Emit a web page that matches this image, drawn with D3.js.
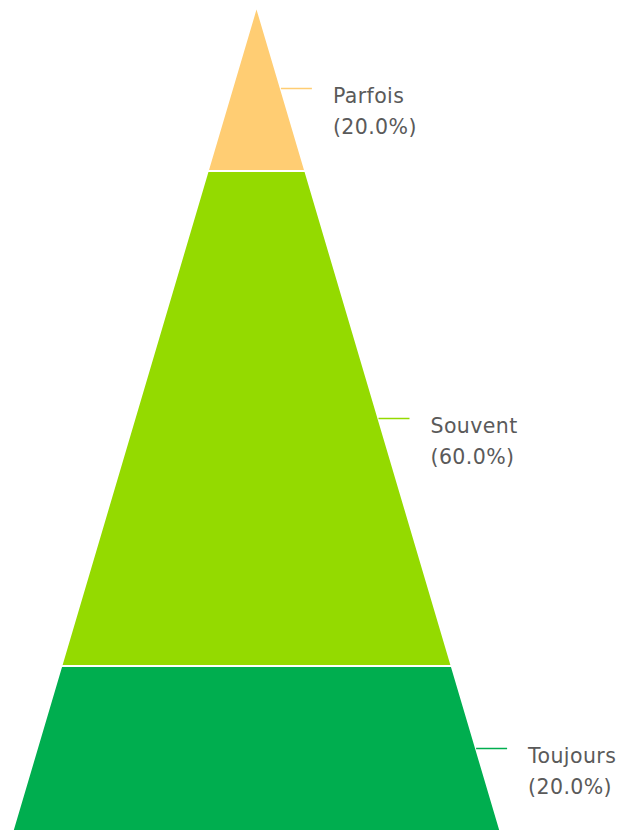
<!DOCTYPE html>
<html>
<head>
<meta charset="utf-8">
<script src="https://cdn.jsdelivr.net/npm/d3@7"></script>
<style>
  html, body { margin: 0; padding: 0; background: #fff; }
  svg { display: block; }
  .lbl { font-family: "DejaVu Sans", sans-serif; font-size: 20.5px; letter-spacing: 0.4px; fill: #5a5a5a; }
</style>
</head>
<body>
<svg id="chart" width="626" height="831"></svg>
<script>
// data, top of the pyramid first
const categories = ["Parfois", "Souvent", "Toujours"];
const values = [20, 60, 20];
const colors = ["#FFCD73", "#94DA00", "#00AE4F"];

const width = 626, height = 831;
const apexX = 256.5, apexY = 6, baseY = 831, baseHalf = 244;

const svg = d3.select("#chart");

const total = d3.sum(values);
const yScale = d3.scaleLinear().domain([0, total]).range([apexY, baseY]);
// half width of the pyramid at a given y
const halfScale = d3.scaleLinear().domain([apexY, baseY]).range([0, baseHalf]);

let acc = 0;
const segs = values.map((v, i) => {
  const s = { name: categories[i], value: v, color: colors[i], start: acc, end: acc + v };
  acc += v;
  return s;
});

const line = d3.line();

svg.append("g")
  .selectAll("path")
  .data(segs)
  .join("path")
    .attr("d", d => {
      const y0 = yScale(d.start), y1 = yScale(d.end);
      const h0 = halfScale(y0), h1 = halfScale(y1);
      return line([[apexX - h0, y0], [apexX + h0, y0], [apexX + h1, y1], [apexX - h1, y1]]) + "Z";
    })
    .attr("fill", d => d.color)
    .attr("stroke", "#fff")
    .attr("stroke-width", 2)
    .attr("stroke-linejoin", "miter");

const fmt = d3.format(".1%");

const labels = svg.append("g")
  .selectAll("g")
  .data(segs)
  .join("g")
    .attr("transform", d => {
      const ym = yScale((d.start + d.end) / 2);
      return `translate(${apexX + halfScale(ym)},${ym})`;
    });

labels.append("line")
  .attr("x1", 0).attr("x2", 31)
  .attr("y1", 0).attr("y2", 0)
  .attr("stroke", d => d.color)
  .attr("stroke-width", 1.5);

const txt = labels.append("text")
  .attr("class", "lbl")
  .attr("x", 52)
  .attr("y", 14);
txt.append("tspan").attr("x", 52).text(d => d.name);
txt.append("tspan").attr("x", 52).attr("dy", 31).text(d => "(" + fmt(d.value / total) + ")");
</script>
</body>
</html>
